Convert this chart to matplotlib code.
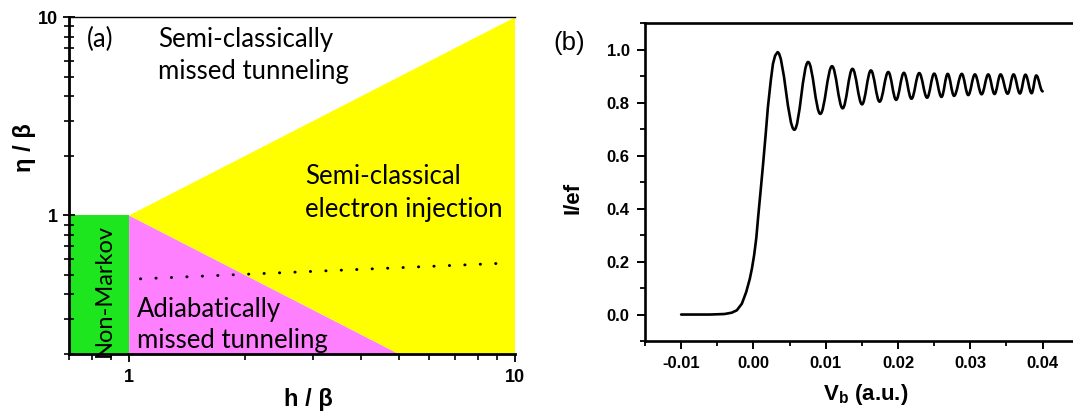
import matplotlib
matplotlib.use("Agg")
import matplotlib.pyplot as plt
from matplotlib.path import Path
from matplotlib.patches import PathPatch
from matplotlib.ticker import (LogLocator, FixedLocator, NullFormatter,
                               MultipleLocator, FormatStrFormatter)

plt.rcParams['mathtext.fontset'] = 'custom'
plt.rcParams['mathtext.rm'] = 'Liberation Sans:bold'
plt.rcParams['mathtext.bf'] = 'Liberation Sans:bold'

# ---- (a) regime diagram, h/beta vs eta/beta ----
nonmarkov_h = [0.7, 1.0, 1.0, 0.7]
nonmarkov_eta = [0.2, 0.2, 1.0, 1.0]
adiabatic_h = [1.0, 5.0, 1.0]
adiabatic_eta = [1.0, 0.2, 0.2]
injection_h = [1.0, 10.0, 10.0, 5.0]
injection_eta = [1.0, 10.0, 0.2, 0.2]
dotted_h = [1.07, 2.0, 4.0, 9.3]
dotted_eta = [0.479, 0.505, 0.535, 0.574]

# ---- (b) current vs bias ----
rise_vb = [-0.0100, -0.0060, -0.0040, -0.0030, -0.0023, -0.0016, -0.0010,
           -0.0005, -0.0002, 0.0001, 0.0004, 0.00065, 0.0010, 0.00134,
           0.0017, 0.0020, 0.0024, 0.0027, 0.0030]
rise_i = [0.000, 0.000, 0.002, 0.007, 0.016, 0.041, 0.085,
          0.135, 0.175, 0.225, 0.290, 0.368, 0.469, 0.570,
          0.683, 0.783, 0.884, 0.947, 0.978]
peak_vb = [0.00333, 0.00757, 0.01087, 0.01370, 0.01625, 0.01865, 0.02081,
           0.02293, 0.02500, 0.02687, 0.02882, 0.03063, 0.03248, 0.03418,
           0.03598, 0.03762, 0.03912]
peak_i = [0.991, 0.954, 0.938, 0.928, 0.922, 0.916, 0.913, 0.912, 0.910,
          0.909, 0.909, 0.907, 0.907, 0.907, 0.907, 0.906, 0.903]
trough_vb = [0.00566, 0.00925, 0.01234, 0.01502, 0.01745, 0.01974, 0.02186,
             0.02402, 0.02601, 0.02775, 0.02971, 0.03156, 0.03335, 0.03516,
             0.03686, 0.03848]
trough_i = [0.698, 0.758, 0.779, 0.794, 0.804, 0.811, 0.815, 0.819, 0.822,
            0.826, 0.829, 0.832, 0.833, 0.834, 0.835, 0.836]
end_vb, end_i = 0.0400, 0.843

label_font = 'Lato'
fig = plt.figure(figsize=(10.73, 4.12), dpi=100)

# left panel
ax1 = fig.add_axes([0.0646, 0.1408, 0.4154, 0.8172])
ax1.set_xscale('log')
ax1.set_yscale('log')
ax1.fill(nonmarkov_h, nonmarkov_eta, color='#1EE61E', lw=0, zorder=1)
ax1.fill(adiabatic_h, adiabatic_eta, color='#FF80FF', lw=0, zorder=1)
ax1.fill(injection_h, injection_eta, color='#FFFF00', lw=0, zorder=1)
ax1.plot(dotted_h, dotted_eta, color='black', lw=2.1,
         ls=(0, (0.1, 5.2)), dash_capstyle='round', zorder=2)
ax1.set_xlim(0.7, 10)
ax1.set_ylim(0.2, 10)

ax1.spines['right'].set_visible(False)
ax1.spines['top'].set_linewidth(1.0)
ax1.spines['left'].set_linewidth(2.0)
ax1.spines['bottom'].set_linewidth(2.0)

ax1.xaxis.set_major_locator(FixedLocator([1, 10]))
ax1.yaxis.set_major_locator(FixedLocator([1, 10]))
ax1.xaxis.set_minor_locator(LogLocator(base=10, subs=range(2, 10)))
ax1.yaxis.set_minor_locator(LogLocator(base=10, subs=range(2, 10)))
ax1.xaxis.set_major_formatter(FormatStrFormatter('%d'))
ax1.yaxis.set_major_formatter(FormatStrFormatter('%d'))
ax1.xaxis.set_minor_formatter(NullFormatter())
ax1.yaxis.set_minor_formatter(NullFormatter())
ax1.tick_params(axis='x', which='major', direction='out', length=6, width=1.3, pad=5)
ax1.tick_params(axis='x', which='minor', direction='out', length=4, width=1.2)
ax1.tick_params(axis='y', which='major', direction='inout', length=9, width=1.3, pad=4)
ax1.tick_params(axis='y', which='minor', direction='inout', length=7, width=1.2)
ax1.tick_params(top=False, right=False, which='both')
for lab in ax1.get_xticklabels() + ax1.get_yticklabels():
    lab.set_fontfamily('Liberation Sans')
    lab.set_fontweight('bold')
    lab.set_fontsize(13)

ax1.set_xlabel('h / β', fontsize=17, fontweight='bold', family='Liberation Sans')
ax1.set_ylabel('η / β', fontsize=17, fontweight='bold', family='Liberation Sans')
ax1.xaxis.set_label_coords(0.537, -0.10)
ax1.yaxis.set_label_coords(-0.075, 0.613)

txt = dict(transform=ax1.transAxes, family=label_font, fontsize=18.5,
           va='baseline', ha='left', zorder=3)
ax1.text(0.040, 0.912, '(a)', **txt)
ax1.text(0.200, 0.913, 'Semi-classically', **txt)
ax1.text(0.200, 0.817, 'missed tunneling', **txt)
ax1.text(0.528, 0.504, 'Semi-classical', **txt)
ax1.text(0.528, 0.408, 'electron injection', **txt)
ax1.text(0.151, 0.111, 'Adiabatically', **txt)
ax1.text(0.151, 0.017, 'missed tunneling', **txt)
ax1.text(0.079, 0.190, 'Non-Markov', transform=ax1.transAxes, family=label_font,
         fontsize=17, rotation=90, ha='center', va='center', zorder=3)

# right panel
ax2 = fig.add_axes([0.6011, 0.1723, 0.4043, 0.7711])
ax2.set_xlim(-0.015, 0.045)
ax2.set_ylim(-0.1, 1.1)

# rise as a polyline, then smooth arcs joining successive extrema
extrema = []
for k in range(len(trough_vb)):
    extrema.append((peak_vb[k], peak_i[k]))
    extrema.append((trough_vb[k], trough_i[k]))
extrema.append((peak_vb[-1], peak_i[-1]))
extrema.append((end_vb, end_i))

verts = [(rise_vb[0], rise_i[0])]
codes = [Path.MOVETO]
for x, y in zip(rise_vb[1:], rise_i[1:]):
    verts.append((x, y))
    codes.append(Path.LINETO)
verts.append(extrema[0])
codes.append(Path.LINETO)
for (x0, y0), (x1, y1) in zip(extrema[:-1], extrema[1:]):
    dx = x1 - x0
    verts += [(x0 + 0.37 * dx, y0), (x1 - 0.37 * dx, y1), (x1, y1)]
    codes += [Path.CURVE4] * 3
ax2.add_patch(PathPatch(Path(verts, codes), fill=False, edgecolor='black',
                        lw=1.9, capstyle='round', joinstyle='round'))

ax2.spines['right'].set_visible(False)
for side in ('left', 'bottom', 'top'):
    ax2.spines[side].set_linewidth(1.9)
ax2.xaxis.set_major_locator(MultipleLocator(0.01))
ax2.xaxis.set_minor_locator(MultipleLocator(0.005))
ax2.yaxis.set_major_locator(FixedLocator([0.0, 0.2, 0.4, 0.6, 0.8, 1.0]))
ax2.yaxis.set_minor_locator(MultipleLocator(0.1))
ax2.xaxis.set_major_formatter(FormatStrFormatter('%.2f'))
ax2.yaxis.set_major_formatter(FormatStrFormatter('%.1f'))
ax2.tick_params(which='major', direction='out', length=6, width=1.4, pad=5)
ax2.tick_params(which='minor', direction='out', length=3.5, width=1.3)
ax2.tick_params(top=False, right=False, which='both')
for lab in ax2.get_xticklabels() + ax2.get_yticklabels():
    lab.set_fontfamily('Liberation Sans')
    lab.set_fontweight('bold')
    lab.set_fontsize(12)

ax2.set_xlabel(r'V$_{\rm b}$ (a.u.)', fontsize=16, fontweight='bold',
               family='Liberation Sans')
ax2.set_ylabel('I/ef', fontsize=16, fontweight='bold', family='Liberation Sans')
ax2.xaxis.set_label_coords(0.508, -0.13)
ax2.yaxis.set_label_coords(-0.141, 0.449)

fig.text(0.516, 0.879, '(b)', family='Liberation Sans', fontsize=18.5,
         va='baseline', ha='left')

fig.savefig('out.png', dpi=100)
